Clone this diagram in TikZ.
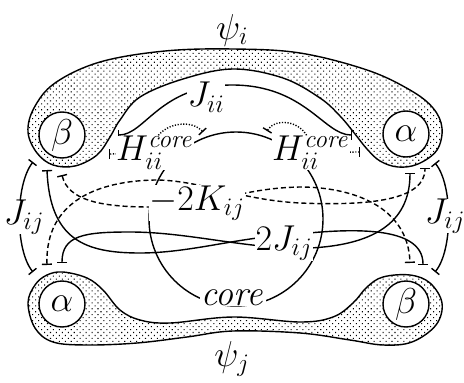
\RequirePackage{fix-cm}
\documentclass[tikz,border=0pt]{standalone}
\usepackage{amsmath}
\usetikzlibrary{arrows.meta,patterns.meta}

\begin{document}
\begin{tikzpicture}[x=1pt,y=-1pt,
    every node/.style={font=\fontsize{36}{42}\selectfont},
    blob/.style={draw,line width=1.4pt,pattern color=black,
      pattern={Dots[distance=4.2pt,angle=45,radius=0.75pt]}},
    spin/.style={circle,draw,line width=1.4pt,fill=white,minimum size=46pt,inner sep=0pt},
    lbl/.style={fill=white,inner sep=0.5pt},
    link/.style={line width=1.4pt,arrows={Bar[width=10pt]-Bar[width=10pt]}},
    exch/.style={link,dash pattern=on 5pt off 3pt},
    hcore/.style={link,dash pattern=on 1.2pt off 1.6pt}]
        \useasboundingbox (0,0) rectangle (464,383);
        % orbital psi_i
        \draw[blob] plot[smooth cycle,tension=0.6] coordinates {
          (53,165) (37,153) (28,132) (34,108) (55,83) (100,62) (165,51) (233,49)
          (300,53) (367,70) (410,90) (433,108) (442,128) (437,150) (418,164)
          (398,167) (380,161) (367,149) (355,134) (340,116) (320,98) (283,78)
          (233,69) (183,79) (140,97) (120,120) (110,137) (97,155) (75,166)};
        % orbital psi_j
        \draw[blob] plot[smooth cycle,tension=0.6] coordinates {
          (28,303) (35,285) (47,275) (63,272) (87,278) (103,290) (120,310)
          (140,320) (170,323) (233,317) (300,322) (333,317) (353,303) (367,287)
          (383,277) (410,275) (430,283) (442,303) (436,325) (412,342) (383,345)
          (350,340) (300,333) (233,331) (187,337) (137,343) (87,345) (53,342)
          (35,328)};
        % spins
        \node[spin] (bi) at (62,135) {$\beta$};
        \node[spin] (ai) at (406,134) {$\alpha$};
        \node[spin] (aj) at (62,304) {$\alpha$};
        \node[spin] (bj) at (406,304) {$\beta$};
        \node (psii) at (232,30) {$\psi_i$};
        \node (psij) at (232,359) {$\psi_j$};
        % core
        \node[circle,draw,line width=1.4pt,minimum size=174pt,inner sep=0pt] (core) at (236,219) {};
        % end points
        \coordinate (jiiA) at (118,135);
        \coordinate (jiiB) at (352,135);
        \coordinate (hlA) at (109,154);
        \coordinate (hlB) at (203,132);
        \coordinate (hrA) at (267,131);
        \coordinate (hrB) at (360,152);
        \coordinate (jlA) at (33,162);
        \coordinate (jlB) at (33,272);
        \coordinate (jrA) at (435,163);
        \coordinate (jrB) at (435,272);
        \coordinate (coulA) at (47,170);
        \coordinate (coulB) at (423,265);
        \coordinate (coulC) at (62,263);
        \coordinate (coulD) at (410,173);
        \coordinate (exchA) at (62,175);
        \coordinate (exchB) at (410,263);
        \coordinate (exchC) at (47,265);
        \coordinate (exchD) at (425,168);
        % J_ii
        \draw[link] (jiiA) .. controls (145,135) and (160,85) .. (232,85)
          .. controls (305,85) and (324,135) .. (jiiB);
        % H core
        \draw[hcore] (hlA) .. controls (135,154) and (145,145) .. (157,137)
          .. controls (168,122) and (192,120) .. (hlB);
        \draw[hcore] (hrA) .. controls (275,118) and (300,120) .. (308,138)
          .. controls (320,155) and (340,152) .. (hrB);
        % J_ij
        \draw[link] (jlA) .. controls (15,185) and (15,250) .. (jlB);
        \draw[link] (jrA) .. controls (453,185) and (453,250) .. (jrB);
        % 2J_ij
        \draw[link] (coulA) .. controls (50,240) and (85,253) .. (140,253)
          .. controls (190,253) and (240,237) .. (290,235)
          .. controls (350,228) and (423,225) .. (coulB);
        \draw[link] (coulC) .. controls (62,235) and (85,232) .. (130,232)
          .. controls (190,232) and (250,250) .. (310,248)
          .. controls (370,245) and (410,225) .. (coulD);
        % -2K_ij
        \draw[exch] (exchA) .. controls (68,200) and (100,207) .. (150,207)
          .. controls (210,207) and (240,188) .. (300,187)
          .. controls (350,187) and (408,205) .. (exchB);
        \draw[exch] (exchC) .. controls (45,200) and (100,181) .. (155,180)
          .. controls (200,180) and (240,200) .. (300,203)
          .. controls (370,206) and (425,200) .. (exchD);
        % labels
        \node[lbl] (jii) at (206,97) {$J_{ii}$};
        \node[lbl,inner sep=0pt] (hl) at (155,153) {$H_{ii}^{\mathit{core}}$};
        \node[lbl,inner sep=0pt] (hr) at (311,153) {$H_{ii}^{\mathit{core}}$};
        \node[lbl,inner sep=0pt] (jl) at (24,217) {$J_{ij}$};
        \node[lbl,inner sep=0pt] (jr) at (445,216) {$J_{ij}$};
        \node[lbl] (kij) at (197,203) {$-2K_{ij}$};
        \node[lbl] (jij) at (284,243) {$2J_{ij}$};
        \node[lbl] (corelbl) at (233,298) {$\mathit{core}$};
\end{tikzpicture}
\end{document}
